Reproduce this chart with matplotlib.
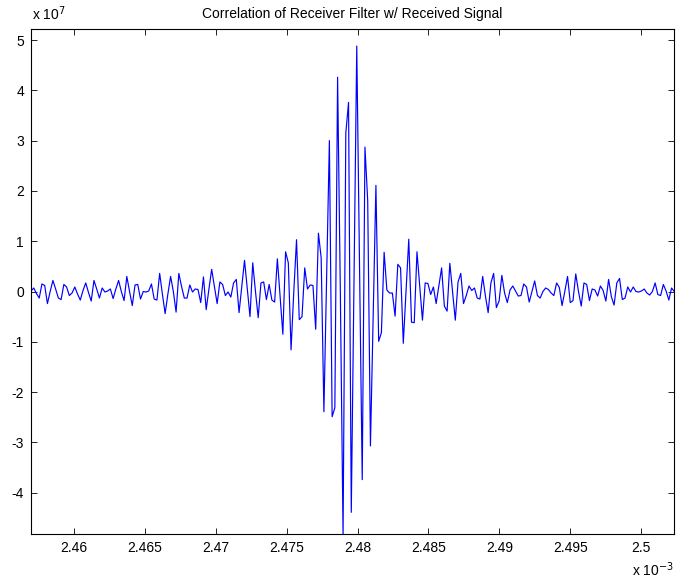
import numpy as np
import matplotlib
matplotlib.use("Agg")
import matplotlib.pyplot as plt
from matplotlib.ticker import FixedLocator, FixedFormatter

plt.rcParams['font.family'] = ['Liberation Sans', 'DejaVu Sans']
plt.rcParams['axes.unicode_minus'] = False

# ---- data ----
t_start = 2.456944e-3          # s, first sample
t_step = 1.93217e-7            # s, sample spacing
# correlation values in units of 1e7
corr_e7 = [
    0.01, 0.07, -0.04, -0.13, 0.15, 0.12, -0.24, 0.00, 0.22, 0.05,
    -0.13, -0.16, 0.14, 0.09, -0.08, -0.03, 0.09, -0.05, -0.17, 0.02,
    0.17, -0.02, -0.19, 0.22, 0.05, -0.13, 0.07, -0.01, 0.01, 0.05,
    -0.14, 0.05, 0.22, 0.00, -0.18, 0.30, 0.00, -0.28, 0.13, 0.14,
    -0.15, 0.00, -0.01, 0.01, 0.15, -0.15, -0.17, 0.36, -0.05, -0.44,
    -0.05, 0.30, 0.00, -0.41, 0.36, 0.10, -0.13, -0.13, 0.13, -0.01,
    0.05, 0.04, -0.22, 0.29, -0.36, 0.05, 0.44, 0.10, -0.24, 0.19,
    0.14, -0.08, -0.01, -0.11, 0.17, 0.24, -0.42, 0.10, 0.62, 0.05,
    -0.50, 0.57, 0.00, -0.52, 0.17, 0.19, -0.16, 0.14, -0.17, -0.21,
    0.65, -0.10, -0.85, 0.79, 0.57, -1.16, 0.00, 1.03, -0.56, -0.50,
    0.47, 0.05, 0.13, 0.12, -0.75, 1.16, 0.67, -2.39, 0.30, 3.00,
    -2.49, -2.31, 4.26, 0.00, -4.85, 3.15, 3.76, -4.39, 0.20, 4.88,
    0.50, -3.74, 2.87, 1.80, -3.07, -0.50, 2.11, -0.99, -0.82, 0.78,
    0.03, -0.03, -0.03, -0.49, 0.54, 0.47, -1.03, 0.00, 1.04, -0.61,
    -0.62, 0.79, 0.10, -0.57, 0.17, 0.16, -0.06, 0.09, -0.24, 0.12,
    0.47, -0.29, -0.39, 0.56, 0.00, -0.57, 0.19, 0.36, -0.24, -0.08,
    0.11, 0.02, 0.07, -0.13, -0.15, 0.30, -0.09, -0.42, 0.17, 0.36,
    -0.32, -0.19, 0.32, -0.03, -0.22, 0.03, 0.11, 0.01, -0.09, -0.08,
    0.15, 0.09, -0.21, 0.00, 0.21, -0.08, -0.13, 0.00, 0.07, 0.04,
    -0.03, -0.08, 0.17, 0.08, -0.28, 0.00, 0.30, -0.22, -0.18, 0.35,
    0.00, -0.29, 0.17, 0.14, -0.18, 0.05, 0.03, -0.09, 0.11, 0.02,
    -0.19, 0.24, -0.10, -0.27, 0.17, 0.26, -0.16, -0.13, 0.09, -0.01,
    0.09, 0.00, -0.01, 0.01, 0.05, -0.03, -0.07, 0.00, 0.17, -0.06,
    -0.08, 0.14, 0.01, -0.17, 0.07, 0.00,
]
x_ticks_e3 = [2.46, 2.465, 2.47, 2.475, 2.48, 2.485, 2.49, 2.495, 2.5]
x_tick_labels = ['2.46', '2.465', '2.47', '2.475', '2.48', '2.485', '2.49', '2.495', '2.5']
y_ticks_e7 = [-4, -3, -2, -1, 0, 1, 2, 3, 4, 5]
y_tick_labels = ['-4', '-3', '-2', '-1', '0', '1', '2', '3', '4', '5']
x_limits = (2.456944e-3, 2.502350e-3)
y_limits_e7 = (-4.827, 5.225)
title_text = 'Correlation of Receiver Filter w/ Received Signal'

# ---- plot ----
y = np.array(corr_e7) * 1e7
t = t_start + t_step * np.arange(len(y))

fig = plt.figure(figsize=(6.99, 5.81), dpi=100)
ax = fig.add_axes([31 / 699, 1 - 534.3 / 581, (674.3 - 31) / 699, (534.3 - 28.7) / 581])
ax.plot(t, y, color=(0, 0, 1), linewidth=0.85)

ax.set_xlim(*x_limits)
ax.set_ylim(y_limits_e7[0] * 1e7, y_limits_e7[1] * 1e7)
ax.xaxis.set_major_locator(FixedLocator([v * 1e-3 for v in x_ticks_e3]))
ax.xaxis.set_major_formatter(FixedFormatter(x_tick_labels))
ax.yaxis.set_major_locator(FixedLocator([v * 1e7 for v in y_ticks_e7]))
ax.yaxis.set_major_formatter(FixedFormatter(y_tick_labels))
ax.tick_params(direction='in', length=4.2, width=0.6, top=True, right=True,
               labelsize=10, pad=5, colors='black')
for s in ax.spines.values():
    s.set_linewidth(0.8)

ax.set_title(title_text, fontsize=10, pad=8)
fig.text(32 / 699, 1 - 20 / 581, r'x 10$^{7}$', fontsize=10, ha='left', va='baseline')
fig.text(674 / 699, 1 - 576 / 581, r'x 10$^{-3}$', fontsize=10, ha='right', va='baseline')

fig.savefig('out.png', dpi=100)
